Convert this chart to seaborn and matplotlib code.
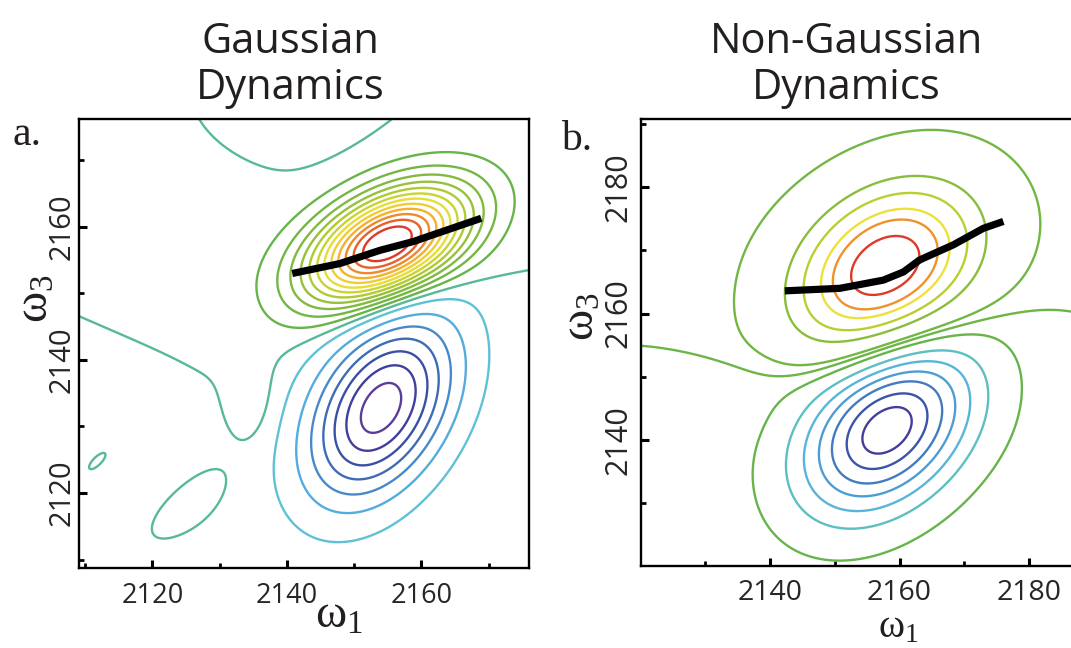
import numpy as np
import matplotlib
matplotlib.use("Agg")
import matplotlib.pyplot as plt
import seaborn as sns
from matplotlib.colors import LinearSegmentedColormap
from matplotlib.ticker import FixedLocator

# ---------------- data ----------------
# Panel a (Gaussian dynamics): spectral components
# [main +peak, main -peak, baseline bumps (upper-left +, lower-left -, top -, island +, notch +, speck +)]
a_w1 = [2155.0, 2154.0, 2122.0, 2108.0, 2139.0, 2125.5, 2135.5, 2111.8]
a_w3 = [2157.3, 2132.8, 2160.0, 2128.0, 2177.5, 2118.5, 2133.5, 2124.8]
a_amp = [1.0, -0.95, 0.03, -0.03, -0.05, 0.025, 0.045, 0.045]
a_smaj = [9.0, 10.0, 12.0, 12.0, 7.0, 5.0, 5.0, 1.6]
a_smin = [5.0, 6.2, 12.0, 12.0, 5.0, 2.0, 2.5, 0.6]
a_ang = [28.0, 60.0, 0.0, 0.0, 0.0, 38.0, 90.0, 45.0]
a_pos_frac = list(np.round(np.linspace(0.075, 0.91, 12), 3))
a_neg_frac = list(np.round(np.linspace(0.09, 0.92, 7), 3))

# Panel b (non-Gaussian dynamics): main peaks + broad wings + baseline dip
b_w1 = [2157.8, 2158.1, 2160.0, 2160.0, 2138.0]
b_w3 = [2167.0, 2142.0, 2172.0, 2142.0, 2149.5]
b_amp = [1.0, -1.0, 0.025, -0.025, -0.04]
b_smaj = [11.0, 11.0, 22.0, 22.0, 7.0]
b_smin = [8.0, 7.5, 10.0, 10.0, 3.5]
b_ang = [40.0, 48.0, 3.0, 3.0, 0.0]
b_pos_frac = [0.067, 0.30, 0.45, 0.61, 0.72, 0.87]
b_neg_frac = [0.09, 0.25, 0.39, 0.53, 0.66, 0.80, 0.92]

# Center lines
a_cls_w1 = [2140.8, 2147.9, 2153.9, 2158.8, 2160.8, 2168.9]
a_cls_w3 = [2153.0, 2154.5, 2156.5, 2157.8, 2158.5, 2161.3]
b_cls_w1 = [2142.3, 2150.8, 2157.5, 2160.6, 2163.1, 2168.3, 2172.9, 2176.0]
b_cls_w3 = [2163.6, 2164.0, 2165.3, 2166.6, 2168.5, 2170.9, 2173.5, 2174.6]

a_xlim = (2109.1, 2176.0)
a_ylim = (2108.8, 2176.3)
b_xlim = (2120.1, 2190.0)
b_ylim = (2120.0, 2190.8)
a_major = [2120, 2140, 2160]
a_minor = [2110, 2130, 2150, 2170]
b_major = [2140, 2160, 2180]
b_minor = [2130, 2150, 2170, 2190]

titles = [("Gaussian", "Dynamics"), ("Non-Gaussian", "Dynamics")]
panel_letters = ["a.", "b."]

# ---------------- style ----------------
sns.set_theme(style="white")
plt.rcParams["font.family"] = ["Open Sans", "DejaVu Sans"]
plt.rcParams["mathtext.fontset"] = "custom"
plt.rcParams["mathtext.rm"] = "Liberation Serif"
plt.rcParams["mathtext.it"] = "Liberation Serif"
plt.rcParams["mathtext.bf"] = "Liberation Serif:bold"

cmap = LinearSegmentedColormap.from_list("spec", [
    (0.00, "#5e3c99"), (0.08, "#3b3f9b"), (0.17, "#3a5cab"), (0.26, "#4684c6"),
    (0.34, "#52acde"), (0.41, "#5fc2d6"), (0.47, "#57b99a"), (0.53, "#66b449"),
    (0.63, "#85bb3c"), (0.72, "#b9cf2f"), (0.80, "#ede03a"), (0.87, "#f4b52f"),
    (0.93, "#ee7f2b"), (1.00, "#dd3a29")])

W, H = 1071, 648
fig = plt.figure(figsize=(W / 100, H / 100), dpi=100)
fig.patch.set_facecolor("white")


def fx(px):
    return px / W


def fy(py):
    return 1 - py / H


def spectrum(X, Y, cx, cy, amp, smaj, smin, ang):
    F = np.zeros_like(X)
    for c1, c3, A, s1, s2, t in zip(cx, cy, amp, smaj, smin, ang):
        th = np.deg2rad(t)
        dx, dy = X - c1, Y - c3
        u = dx * np.cos(th) + dy * np.sin(th)
        v = -dx * np.sin(th) + dy * np.cos(th)
        F += A * np.exp(-0.5 * ((u / s1) ** 2 + (v / s2) ** 2))
    return F


def draw(ax, xlim, ylim, comps, pos_frac, neg_frac, neg_cpos, zero_c, pos_cpos,
         cls_x, cls_y, major, minor, xsize, ysize, xpad, ypad):
    x = np.linspace(xlim[0] - 1, xlim[1] + 1, 600)
    y = np.linspace(ylim[0] - 1, ylim[1] + 1, 600)
    X, Y = np.meshgrid(x, y)
    F = spectrum(X, Y, *comps)
    fmax, fmin = F.max(), -F.min()
    # neg_frac / neg_cpos are given from the outermost to the innermost contour
    neg_pairs = sorted(zip(neg_frac, neg_cpos), reverse=True)
    pos_pairs = sorted(zip(pos_frac, pos_cpos))
    levels = [-f * fmin for f, _ in neg_pairs] + [0.0] + [f * fmax for f, _ in pos_pairs]
    cols = [cmap(c) for _, c in neg_pairs] + [cmap(zero_c)] + [cmap(c) for _, c in pos_pairs]
    ax.contour(X, Y, F, levels=levels, colors=cols, linewidths=1.7)
    sns.lineplot(x=cls_x, y=cls_y, ax=ax, color="black", lw=5.2, sort=False,
                 solid_capstyle="butt")
    ax.set_xlim(*xlim)
    ax.set_ylim(*ylim)
    ax.set_xlabel("")
    ax.set_ylabel("")
    ax.xaxis.set_major_locator(FixedLocator(major))
    ax.yaxis.set_major_locator(FixedLocator(major))
    ax.xaxis.set_minor_locator(FixedLocator(minor))
    ax.yaxis.set_minor_locator(FixedLocator(minor))
    ax.tick_params(which="major", direction="in", length=5.8, width=2.2, color="black")
    ax.tick_params(which="minor", direction="in", length=3.4, width=2.0, color="black")
    ax.tick_params(axis="x", which="major", labelsize=xsize, pad=xpad, bottom=True)
    ax.tick_params(axis="y", which="major", labelsize=ysize, pad=ypad, left=True)
    ax.tick_params(axis="x", which="minor", bottom=True)
    ax.tick_params(axis="y", which="minor", left=True)
    for lab in ax.get_yticklabels():
        lab.set_rotation(90)
        lab.set_va("center")
    for s in ax.spines.values():
        s.set_visible(True)
        s.set_color("black")
        s.set_linewidth(1.7)
    ax.set_facecolor("white")


ax_a = fig.add_axes([fx(79), fy(567.5), fx(450), 449 / H])
ax_b = fig.add_axes([fx(640.7), fy(566), (1094.2 - 640.7) / W, (566 - 119.2) / H])

draw(ax_a, a_xlim, ylim=a_ylim, comps=(a_w1, a_w3, a_amp, a_smaj, a_smin, a_ang),
     pos_frac=a_pos_frac, neg_frac=a_neg_frac,
     neg_cpos=list(np.linspace(0.41, 0.0, 7)), zero_c=0.47,
     pos_cpos=list(np.linspace(0.53, 1.0, 12)),
     cls_x=a_cls_w1, cls_y=a_cls_w3, major=a_major, minor=a_minor,
     xsize=19.5, ysize=21, xpad=10.5, ypad=2.0)
draw(ax_b, b_xlim, ylim=b_ylim, comps=(b_w1, b_w3, b_amp, b_smaj, b_smin, b_ang),
     pos_frac=b_pos_frac, neg_frac=b_neg_frac,
     neg_cpos=[0.53, 0.43, 0.37, 0.31, 0.24, 0.15, 0.06], zero_c=0.55,
     pos_cpos=[0.57, 0.64, 0.72, 0.80, 0.91, 1.0],
     cls_x=b_cls_w1, cls_y=b_cls_w3, major=b_major, minor=b_minor,
     xsize=20.5, ysize=22, xpad=9.0, ypad=5.0)

# titles
for (l1, l2), cx in zip(titles, [290, 846]):
    fig.text(fx(cx), fy(53), l1, ha="center", va="baseline", fontsize=30,
             color="#231f20")
    fig.text(fx(cx), fy(99), l2, ha="center", va="baseline", fontsize=30,
             color="#231f20")

# panel letters
fig.text(fx(12), fy(145), panel_letters[0], ha="left", va="baseline", fontsize=30,
         family=["Liberation Serif", "DejaVu Serif"], color="#231f20")
fig.text(fx(561), fy(150), panel_letters[1], ha="left", va="baseline", fontsize=30,
         family=["Liberation Serif", "DejaVu Serif"], color="#231f20")

# axis labels
fig.text(fx(315), fy(628), r"$\omega_1$", ha="left", va="baseline", fontsize=34,
         color="#231f20")
fig.text(fx(878), fy(637), r"$\omega_1$", ha="left", va="baseline", fontsize=28.5,
         color="#231f20")
fig.text(fx(48), fy(323), r"$\omega_3$", ha="left", va="baseline", fontsize=34,
         rotation=90, rotation_mode="anchor", color="#231f20")
fig.text(fx(594), fy(341), r"$\omega_3$", ha="left", va="baseline", fontsize=34,
         rotation=90, rotation_mode="anchor", color="#231f20")

fig.savefig("out.png", dpi=100, facecolor="white")
